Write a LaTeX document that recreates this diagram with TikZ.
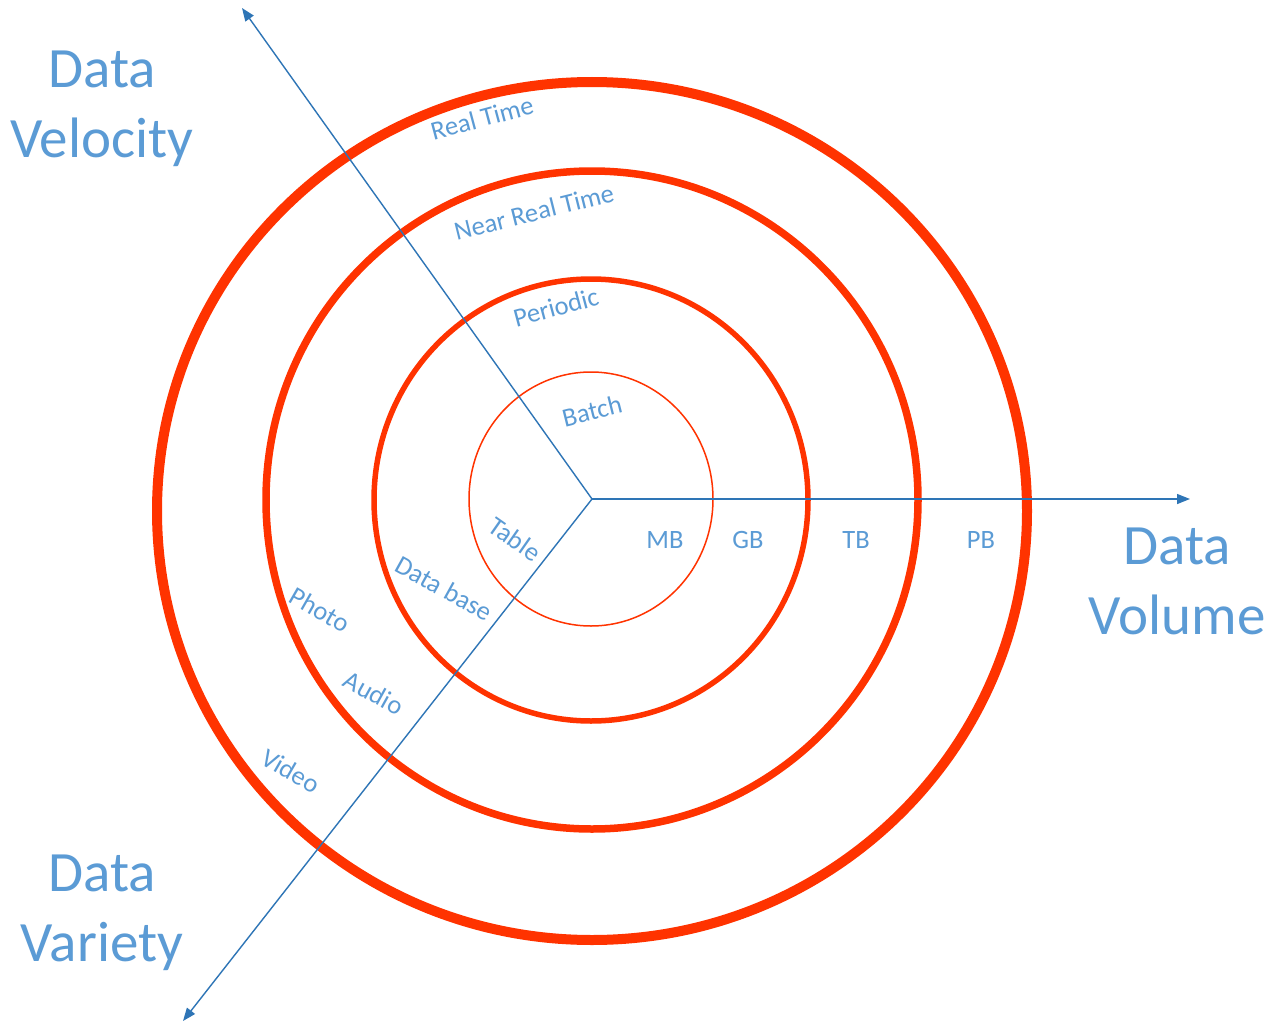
\documentclass[tikz,border=0pt]{standalone}
\usepackage{fontspec}
\setmainfont{Carlito}
\usetikzlibrary{arrows.meta}
\definecolor{ringred}{HTML}{FF3300}
\definecolor{axisblue}{HTML}{2E75B6}
\definecolor{textblue}{HTML}{5B9BD5}
\begin{document}
\begin{tikzpicture}[x=1pt,y=-1pt,
  ring/.style={draw=ringred},
  axis/.style={draw=axisblue, line width=1.4pt, -{Triangle[length=13pt,width=10pt]}},
  biglabel/.style={text=textblue, align=center, inner sep=0pt, font=\fontsize{57}{70}\selectfont},
  smalllabel/.style={text=textblue, inner sep=0pt, font=\fontsize{26.5}{30}\selectfont}]
\useasboundingbox (0,0) rectangle (1266,1022);
\fill[white] (0,0) rectangle (1266,1022);
% rings
\draw[ring, line width=10pt] (592,511) ellipse [x radius=435pt, y radius=429pt];
\draw[ring, line width=7.5pt] (592,500) ellipse [x radius=326pt, y radius=329pt];
\draw[ring, line width=5.5pt] (591,500) ellipse [x radius=217pt, y radius=221pt];
\draw[ring, line width=1.5pt] (591,499) ellipse [x radius=122pt, y radius=127pt];
% axes
\coordinate (O) at (592,499);
\coordinate (vel) at (242,8);
\coordinate (vol) at (1190,499);
\coordinate (var) at (183,1021);
\draw[axis] (O) -- (vel);
\draw[axis] (O) -- (vol);
\draw[axis] (O) -- (var);
% big labels
\node[biglabel] (velocity) at (102,109) {Data\\Velocity};
\node[biglabel] (volume) at (1177,581) {Data\\Volume};
\node[biglabel] (variety) at (102,913) {Data\\Variety};
% velocity labels
\node[smalllabel, rotate=15] (rt) at (482,118) {Real Time};
\node[smalllabel, rotate=14] (nrt) at (534,212) {Near Real Time};
\node[smalllabel, rotate=15] (per) at (556,307) {Periodic};
\node[smalllabel, rotate=14] (bat) at (592,411) {Batch};
% volume labels
\node[smalllabel] (mb) at (665,540) {MB};
\node[smalllabel] (gb) at (748,540) {GB};
\node[smalllabel] (tb) at (856,540) {TB};
\node[smalllabel] (pb) at (981,540) {PB};
% variety labels
\node[smalllabel, rotate=-35] (tab) at (515,539) {Table};
\node[smalllabel, rotate=-29] (db) at (444,588) {Data base};
\node[smalllabel, rotate=-30] (pho) at (320,610) {Photo};
\node[smalllabel, rotate=-29] (aud) at (374,693) {Audio};
\node[smalllabel, rotate=-30] (vid) at (291,771) {Video};
\end{tikzpicture}
\end{document}
